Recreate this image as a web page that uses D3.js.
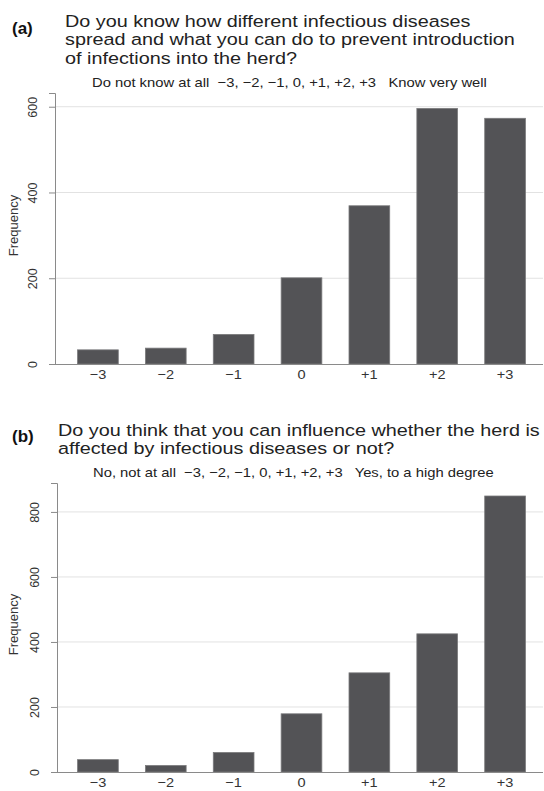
<!DOCTYPE html>
<html>
<head>
<meta charset="utf-8">
<script src="https://cdn.jsdelivr.net/npm/d3@7"></script>
<style>
  body { margin: 0; background: #fff; }
  svg { display: block; font-family: "Liberation Sans", Arial, sans-serif; }
  text { white-space: pre; }
</style>
</head>
<body>
<svg id="chart" width="544" height="791"></svg>
<script>
// answer scale categories (same for both panels)
const categories = ["\u22123", "\u22122", "\u22121", "0", "+1", "+2", "+3"];

// panel (a): knowledge of how infections spread
const freqA = [33, 37, 69, 201, 369, 596, 573];
const ticksA = [0, 200, 400, 600];
const titleA = [
    "Do you know how different infectious diseases",
    "spread and what you can do to prevent introduction",
    "of infections into the herd?"
];
const subA = "Do not know at all  \u22123, \u22122, \u22121, 0, +1, +2, +3   Know very well";

// panel (b): belief in influence over herd infections
const freqB = [38, 20, 60, 179, 305, 425, 849];
const ticksB = [0, 200, 400, 600, 800];
const titleB = [
    "Do you think that you can influence whether the herd is",
    "affected by infectious diseases or not?"
];
const subB = "No, not at all  \u22123, \u22122, \u22121, 0, +1, +2, +3   Yes, to a high degree";

const svg = d3.select("#chart");

// the source figure's type is a bit wider than Arial, so text gets stretched sideways
const stretch = 1.12;

function drawPanel(cfg) {
    const g = svg.append("g");

    // panel letter + question
    g.append("text")
        .attr("x", 12).attr("y", cfg.letterY)
        .attr("font-size", 17).attr("font-weight", "bold").attr("fill", "#111")
        .text(cfg.letter);

    const tg = g.append("g")
        .attr("transform", "translate(" + cfg.titleX + ",0)scale(1.165,1)");
    tg.selectAll(".title")
        .data(cfg.title)
        .enter()
        .append("text")
        .attr("x", 0)
        .attr("y", (d, i) => cfg.titleY + i * 18.3)
        .attr("font-size", 17).attr("fill", "#222")
        .text(d => d);

    g.append("g")
        .attr("transform", "translate(" + cfg.subX + ",0)scale(" + stretch + ",1)")
        .append("text")
        .attr("x", 0).attr("y", cfg.subY)
        .attr("font-size", 13.2).attr("fill", "#222")
        .text(cfg.sub);

    const x = d3.scaleBand()
        .domain(categories)
        .range([64, 539])
        .paddingInner(0.4)
        .paddingOuter(0.2);

    const y = d3.scaleLinear()
        .domain([0, cfg.yMax])
        .range([cfg.bottom, cfg.top]);

    // horizontal grid lines
    g.selectAll(".grid")
        .data(cfg.ticks.filter(t => t > 0))
        .enter()
        .append("line")
        .attr("x1", cfg.axisX).attr("x2", 543)
        .attr("y1", d => y(d)).attr("y2", d => y(d))
        .attr("stroke", "#e2e2e2").attr("stroke-width", 1);

    // bars
    g.selectAll(".bar")
        .data(cfg.values)
        .enter()
        .append("rect")
        .attr("x", (d, i) => x(categories[i]))
        .attr("y", d => y(d))
        .attr("width", x.bandwidth())
        .attr("height", d => cfg.bottom - y(d))
        .attr("fill", "#535356")
        .attr("stroke", "#7a7a7c")
        .attr("stroke-width", 0.8);

    // y axis
    const yAxis = g.append("g")
        .attr("transform", "translate(" + cfg.axisX + ",0)")
        .call(d3.axisLeft(y).tickValues(cfg.ticks).tickSize(6).tickPadding(0));
    yAxis.select(".domain").attr("stroke", "#8a8a8a");
    yAxis.selectAll(".tick line").attr("stroke", "#8a8a8a");
    yAxis.selectAll(".tick text")
        .attr("x", 0).attr("dy", null)
        .attr("transform", "translate(-18,0)rotate(-90)")
        .style("text-anchor", "middle")
        .attr("font-size", 12.5).attr("fill", "#333")
        .attr("font-family", "Liberation Sans, Arial, sans-serif");

    // x axis
    const xAxis = g.append("g")
        .attr("transform", "translate(0," + cfg.bottom + ")")
        .call(d3.axisBottom(x).tickSize(0).tickPadding(6));
    xAxis.select(".domain")
        .attr("d", "M" + cfg.axisX + ",0.5H543")
        .attr("stroke", "#8a8a8a");
    xAxis.selectAll(".tick text")
        .attr("transform", "scale(" + stretch + ",1)")
        .attr("font-size", 13).attr("fill", "#333")
        .attr("font-family", "Liberation Sans, Arial, sans-serif");

    // y axis title
    g.append("text")
        .attr("transform", "translate(18," + ((cfg.top + cfg.bottom) / 2 - 3) + ")rotate(-90)")
        .attr("text-anchor", "middle")
        .attr("font-size", 13).attr("fill", "#333")
        .text("Frequency");
}

drawPanel({
    letter: "(a)", letterY: 34,
    title: titleA, titleX: 65, titleY: 27,
    sub: subA, subX: 92, subY: 87,
    values: freqA, ticks: ticksA, yMax: 632,
    top: 93, bottom: 364, axisX: 55
});

drawPanel({
    letter: "(b)", letterY: 442,
    title: titleB, titleX: 58, titleY: 436,
    sub: subB, subX: 93, subY: 477,
    values: freqB, ticks: ticksB, yMax: 889,
    top: 483, bottom: 772, axisX: 57
});
</script>
</body>
</html>
